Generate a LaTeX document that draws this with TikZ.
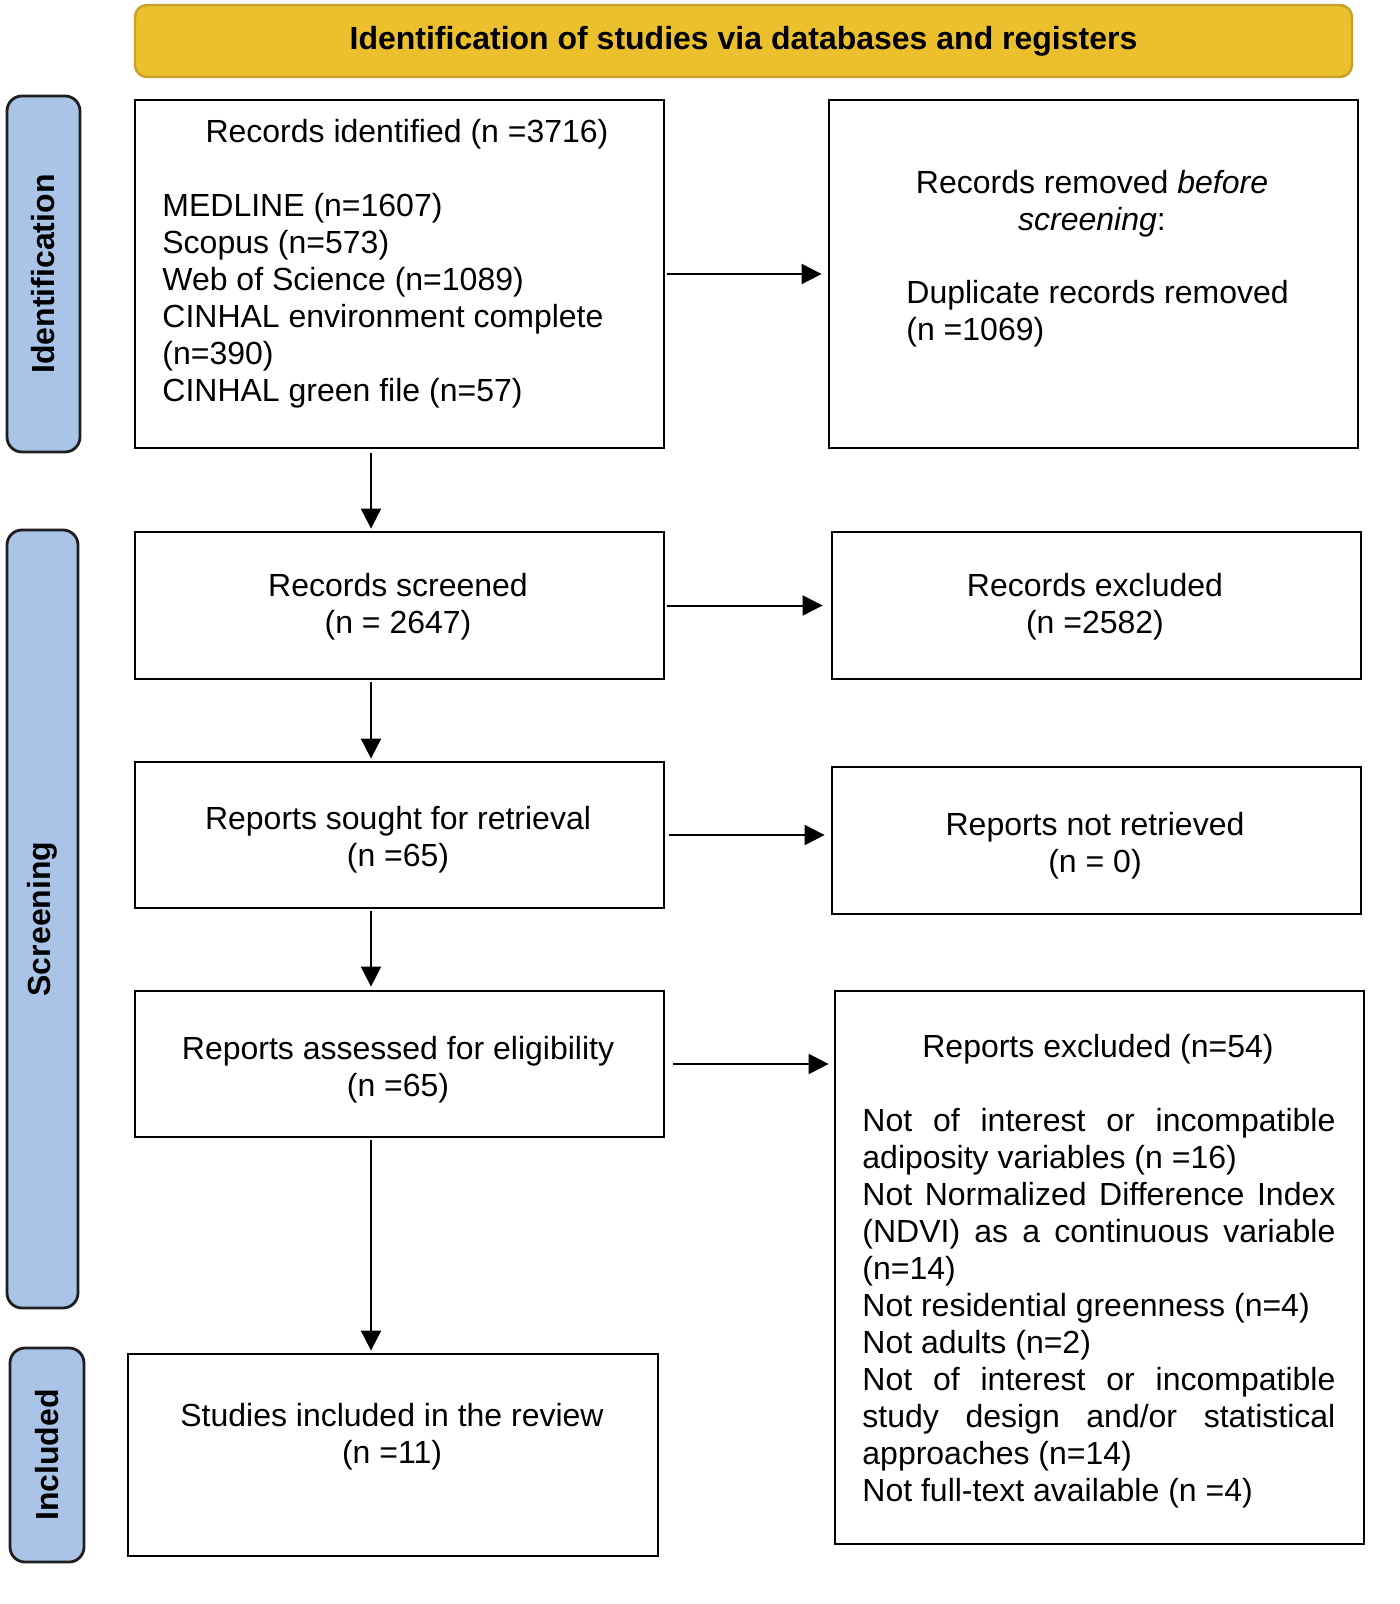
\documentclass[tikz,border=0pt]{standalone}
\usepackage{fontspec}
\setmainfont{Liberation Sans}
\usetikzlibrary{arrows.meta}
\definecolor{hdrfill}{RGB}{236,192,45}
\definecolor{hdrdraw}{RGB}{200,160,40}
\definecolor{sidefill}{RGB}{169,196,230}
\definecolor{sidedraw}{RGB}{30,30,30}
\tikzset{
  txt/.style={font=\fontsize{16}{18.5}\selectfont, inner sep=0pt},
  stepbox/.style={draw=black, line width=1.4pt, rectangle, inner sep=0pt, minimum width=264.5pt},
  sidebox/.style={draw=sidedraw, fill=sidefill, line width=1.4pt, rounded corners=7.5pt, rotate=90,
    font=\fontsize{16}{18.5}\selectfont\bfseries, inner sep=0pt},
  hdr/.style={draw=hdrdraw, fill=hdrfill, line width=1.2pt, rounded corners=6pt,
    font=\fontsize{16}{18.5}\selectfont\bfseries, inner sep=0pt},
  arr/.style={line width=1pt, -{Triangle[length=10pt,width=10pt]}},
}
\begin{document}
\begin{tikzpicture}[x=0.5pt,y=-0.5pt]
\useasboundingbox (0,0) rectangle (1400,1604);
% header
\node[hdr, minimum width=608.5pt, minimum height=36pt] (hdr) at (743.5,41) {Identification of studies via databases and registers};
% side labels
\node[sidebox, minimum width=178pt, minimum height=36.5pt] (sid) at (43.5,274) {Identification};
\node[sidebox, minimum width=389pt, minimum height=35.5pt] (sscr) at (42.5,919) {Screening};
\node[sidebox, minimum width=107pt, minimum height=37pt] (sinc) at (47,1455) {Included};
% boxes
\node[stepbox, minimum height=174pt] (b1) at (399.5,274) {};
\node[stepbox, minimum height=174pt] (b2) at (1093.5,274) {};
\node[stepbox, minimum height=73.5pt] (b3) at (399.5,605.5) {};
\node[stepbox, minimum height=73.5pt] (b4) at (1096.5,605.5) {};
\node[stepbox, minimum height=73pt] (b5) at (399.5,835) {};
\node[stepbox, minimum height=73.5pt] (b6) at (1096.5,840.5) {};
\node[stepbox, minimum height=73pt] (b7) at (399.5,1064) {};
\node[stepbox, minimum height=276.5pt] (b8) at (1099.5,1267.5) {};
\node[stepbox, minimum height=101pt, minimum width=265pt] (b9) at (393,1455) {};
% texts
\node[txt] (t1a) at (407,134) {Records identified (n =3716)};
\node[txt, anchor=west, align=left] (t1b) at (162,301) {MEDLINE (n=1607)\\Scopus (n=573)\\Web of Science (n=1089)\\CINHAL environment complete\\(n=390)\\CINHAL green file (n=57)};
\node[txt, align=center] (t2a) at (1092,204) {Records removed \textit{before}\\\textit{screening}:};
\node[txt, anchor=west, align=left] (t2b) at (906,314) {Duplicate records removed\\(n =1069)};
\node[txt, align=center] (t3) at (398,607) {Records screened\\(n = 2647)};
\node[txt, align=center] (t4) at (1095,607) {Records excluded\\(n =2582)};
\node[txt, align=center] (t5) at (398,840) {Reports sought for retrieval\\(n =65)};
\node[txt, align=center] (t6) at (1095,846) {Reports not retrieved\\(n = 0)};
\node[txt, align=center] (t7) at (398,1070) {Reports assessed for eligibility\\(n =65)};
\node[txt] (t8a) at (1098,1049) {Reports excluded (n=54)};
\node[txt, anchor=west, align=left] (t8b) at (862,1308) {%
\makebox[236.5pt][s]{Not of interest or incompatible}\\
adiposity variables (n =16)\\
\makebox[236.5pt][s]{Not Normalized Difference Index}\\
\makebox[236.5pt][s]{(NDVI) as a continuous variable}\\
(n=14)\\
Not residential greenness (n=4)\\
Not adults (n=2)\\
\makebox[236.5pt][s]{Not of interest or incompatible}\\
\makebox[236.5pt][s]{study design and/or statistical}\\
approaches (n=14)\\
Not full-text available (n =4)};
\node[txt, align=center] (t9) at (392,1437) {Studies included in the review\\(n =11)};
% connectors
\coordinate (ax) at (371,0);
\draw[arr, shorten <=1pt, shorten >=3pt] (b1.east) -- (b2.west);
\draw[arr, shorten <=1pt, shorten >=4pt] (b3.east) -- (b3.east -| b4.west);
\draw[arr, shorten <=2pt, shorten >=3pt] (b5.east) -- (b5.east -| b6.west);
\draw[arr, shorten <=4pt, shorten >=2.5pt] (b7.east) -- (b7.east -| b8.west);
\draw[arr, shorten <=2pt, shorten >=1pt] (b1.south -| ax) -- (b3.north -| ax);
\draw[arr, shorten <=1pt, shorten >=1pt] (b3.south -| ax) -- (b5.north -| ax);
\draw[arr, shorten <=1pt, shorten >=1.5pt] (b5.south -| ax) -- (b7.north -| ax);
\draw[arr, shorten <=1pt, shorten >=1pt] (b7.south -| ax) -- (b9.north -| ax);
\end{tikzpicture}
\end{document}
